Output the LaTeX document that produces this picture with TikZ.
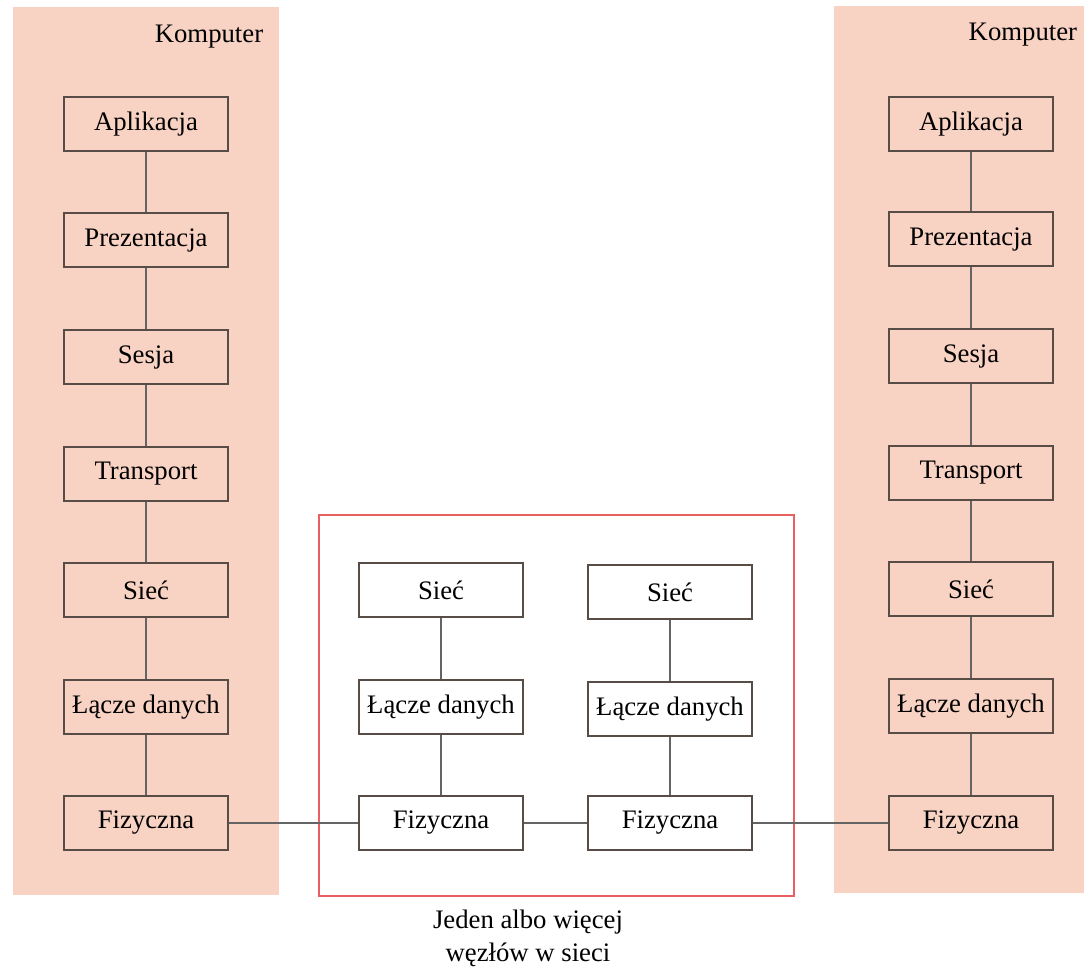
\documentclass[tikz,border=0pt]{standalone}
\usepackage{fontspec}
\setmainfont{Liberation Serif}
\usepackage{xcolor}
\definecolor{peach}{RGB}{248,210,195}
\definecolor{boxline}{RGB}{88,76,70}
\definecolor{wire}{RGB}{100,100,100}
\definecolor{hopred}{RGB}{232,96,96}
\tikzset{
    layer/.style={draw=boxline, line width=1.2pt, minimum width=4.1cm, minimum height=1.35cm,
                  inner sep=0pt, font=\fontsize{19}{22}\selectfont},
    hoplayer/.style={layer, fill=white},
    link/.style={draw=wire, line width=0.9pt},
    panel/.style={fill=peach},
    label/.style={font=\fontsize{19}{23.5}\selectfont, align=center}
}

\begin{document}
\begin{tikzpicture}[x=0.025cm, y=-0.025cm]
                                \useasboundingbox (0, 0) rectangle (1084, 968);
                                % the two end computers
                                \fill[panel] (13, 7) rectangle (279, 895);
                                \fill[panel] (834, 6) rectangle (1084, 893);
                                \node[label] (hostA) at (209, 37) {Komputer};
                                \node[label, anchor=east] (hostB) at (1082, 35) {Komputer};
                                % nodes in the network
                                \draw[hopred, line width=0.9pt] (319, 515) rectangle (794, 896);
                                \node[label] (note) at (528, 938) {Jeden albo więcej\\węzłów w sieci};
                                % left stack
                                \node[layer] (a1) at (146, 124) {Aplikacja};
                                \node[layer] (a2) at (146, 240) {Prezentacja};
                                \node[layer] (a3) at (146, 357) {Sesja};
                                \node[layer] (a4) at (146, 474) {Transport};
                                \node[layer] (a5) at (146, 590) {Sieć};
                                \node[layer] (a6) at (146, 707) {Łącze danych};
                                \node[layer] (a7) at (146, 823) {Fizyczna};
                                % right stack
                                \node[layer] (b1) at (971, 124) {Aplikacja};
                                \node[layer] (b2) at (971, 239) {Prezentacja};
                                \node[layer] (b3) at (971, 356) {Sesja};
                                \node[layer] (b4) at (971, 473) {Transport};
                                \node[layer] (b5) at (971, 589) {Sieć};
                                \node[layer] (b6) at (971, 706) {Łącze danych};
                                \node[layer] (b7) at (971, 823) {Fizyczna};
                                % the two hops
                                \node[hoplayer] (h1) at (441, 590) {Sieć};
                                \node[hoplayer] (h2) at (441, 707) {Łącze danych};
                                \node[hoplayer] (h3) at (441, 823) {Fizyczna};
                                \node[hoplayer] (g1) at (670, 592) {Sieć};
                                \node[hoplayer] (g2) at (670, 709) {Łącze danych};
                                \node[hoplayer] (g3) at (670, 823) {Fizyczna};
                                \draw[link]
                                (a1) -- (a2) (a2) -- (a3) (a3) -- (a4) (a4) -- (a5) (a5) -- (a6) (a6) -- (a7)
                                (b1) -- (b2) (b2) -- (b3) (b3) -- (b4) (b4) -- (b5) (b5) -- (b6) (b6) -- (b7)
                                (h1) -- (h2) (h2) -- (h3)
                                (g1) -- (g2) (g2) -- (g3)
                                (a7) -- (h3) (h3) -- (g3) (g3) -- (b7);
                            \end{tikzpicture}
\end{document}
